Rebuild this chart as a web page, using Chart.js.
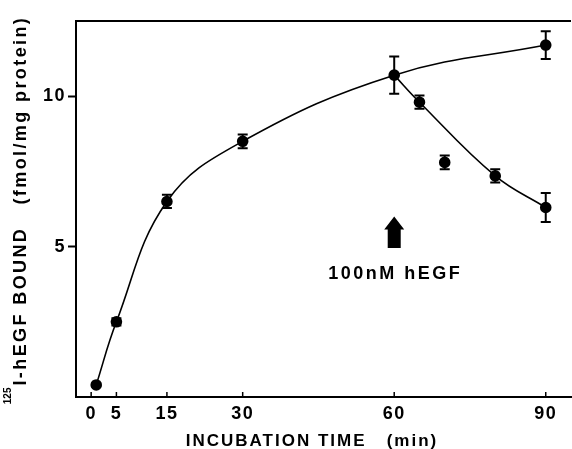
<!DOCTYPE html>
<html>
<head>
<meta charset="utf-8">
<script src="https://cdn.jsdelivr.net/npm/chart.js@4/dist/chart.umd.min.js"></script>
<style>
  html, body { margin: 0; padding: 0; background: #fff; overflow: hidden; }
  canvas { display: block; }
</style>
</head>
<body>
<canvas id="c" width="572" height="449" style="width:572px;height:449px"></canvas>
<script>
// ---- Data ----
const assocTimes  = [1, 5, 15, 30, 60, 90];
const assocValues = [0.4, 2.5, 6.5, 8.5, 10.7, 11.7];
const assocErrors = [0.05, 0.12, 0.22, 0.23, 0.62, 0.46];

const dissocTimes  = [65, 70, 80, 90];
const dissocValues = [9.8, 7.8, 7.35, 6.3];
const dissocErrors = [0.22, 0.23, 0.22, 0.48];

// fitted dissociation curve passes through these measured points
const dissocCurveTimes  = [60, 65, 80, 90];
const dissocCurveValues = [10.7, 9.8, 7.35, 6.3];

const xTickValues = [0, 5, 15, 30, 60, 90];
const yTickValues = [5, 10];

const xTitle = 'INCUBATION TIME   (min)';
const yTitleSup = '125';
const yTitleMain = 'I-hEGF BOUND   (fmol/mg protein)';
const arrowLabel = '100nM hEGF';
const arrowTime = 60;
const arrowRange = [4.95, 6.0];   // base, tip (fmol/mg protein)
const labelValue = 4.1;

const FONT = '"Liberation Sans", Arial, Helvetica, sans-serif';

function pts(xs, ys) { return xs.map((x, i) => ({ x: x, y: ys[i] })); }

const decor = {
  id: 'decor',
  beforeDraw(chart) {
    chart.ctx.letterSpacing = '1.5px';
  },
  afterDatasetsDraw(chart) {
    const ctx = chart.ctx, xs = chart.scales.x, ys = chart.scales.y, a = chart.chartArea;
    ctx.save();
    ctx.strokeStyle = '#000';
    ctx.fillStyle = '#000';
    // error bars
    ctx.lineWidth = 2;
    const drawErr = (t, v, e) => {
      t.forEach((tt, i) => {
        const px = xs.getPixelForValue(tt);
        const top = ys.getPixelForValue(v[i] + e[i]);
        const bot = ys.getPixelForValue(v[i] - e[i]);
        ctx.beginPath();
        ctx.moveTo(px, top); ctx.lineTo(px, bot);
        ctx.moveTo(px - 5, top); ctx.lineTo(px + 5, top);
        ctx.moveTo(px - 5, bot); ctx.lineTo(px + 5, bot);
        ctx.stroke();
      });
    };
    drawErr(assocTimes, assocValues, assocErrors);
    drawErr(dissocTimes, dissocValues, dissocErrors);

    // top frame line
    ctx.lineWidth = 2;
    ctx.beginPath();
    ctx.moveTo(a.left - 1, a.top); ctx.lineTo(a.right, a.top);
    ctx.stroke();

    // inward x ticks
    ctx.lineWidth = 1.5;
    xTickValues.forEach(v => {
      const px = xs.getPixelForValue(v);
      ctx.beginPath();
      ctx.moveTo(px, a.bottom); ctx.lineTo(px, a.bottom - 5);
      ctx.stroke();
    });

    // arrow
    const ax = xs.getPixelForValue(arrowTime);
    const tip = ys.getPixelForValue(arrowRange[1]);
    const base = ys.getPixelForValue(arrowRange[0]);
    const headBase = tip + 13;
    ctx.beginPath();
    ctx.moveTo(ax, tip);
    ctx.lineTo(ax + 10, headBase);
    ctx.lineTo(ax + 6.5, headBase);
    ctx.lineTo(ax + 6.5, base);
    ctx.lineTo(ax - 6.5, base);
    ctx.lineTo(ax - 6.5, headBase);
    ctx.lineTo(ax - 10, headBase);
    ctx.closePath();
    ctx.fill();

    // arrow label
    ctx.font = 'bold 18px ' + FONT;
    ctx.letterSpacing = '2.5px';
    ctx.textAlign = 'center';
    ctx.textBaseline = 'middle';
    ctx.fillText(arrowLabel, ax + 1, ys.getPixelForValue(labelValue));

    // x title
    ctx.font = 'bold 17px ' + FONT;
    ctx.letterSpacing = '2px';
    ctx.textAlign = 'center';
    ctx.textBaseline = 'alphabetic';
    ctx.fillText(xTitle, 312, 446);

    // y title (rotated, with superscript)
    ctx.save();
    ctx.translate(26, 210);
    ctx.rotate(-Math.PI / 2);
    ctx.textAlign = 'left';
    ctx.textBaseline = 'alphabetic';
    ctx.font = 'bold 10px ' + FONT;
    ctx.letterSpacing = '0px';
    const supW = ctx.measureText(yTitleSup).width;
    ctx.font = 'bold 18px ' + FONT;
    ctx.letterSpacing = '2.4px';
    const mainW = ctx.measureText(yTitleMain).width;
    const total = supW + 2 + mainW;
    let x0 = -total / 2;
    ctx.font = 'bold 10px ' + FONT;
    ctx.letterSpacing = '0px';
    ctx.fillText(yTitleSup, x0, -15);
    ctx.font = 'bold 18px ' + FONT;
    ctx.letterSpacing = '2.4px';
    ctx.fillText(yTitleMain, x0 + supW + 2, 0);
    ctx.restore();

    ctx.restore();
  }
};

const chart = new Chart(document.getElementById('c'), {
  type: 'scatter',
  data: {
    datasets: [
      {
        label: 'association curve',
        data: pts(assocTimes, assocValues),
        showLine: true,
        tension: 0.4,
        borderColor: '#000',
        borderWidth: 1.6,
        pointRadius: 0,
        fill: false
      },
      {
        label: 'dissociation curve',
        data: pts(dissocCurveTimes, dissocCurveValues),
        showLine: true,
        tension: 0.4,
        borderColor: '#000',
        borderWidth: 1.6,
        pointRadius: 0,
        fill: false
      },
      {
        label: 'association',
        data: pts(assocTimes, assocValues),
        pointRadius: 7,
        pointBackgroundColor: '#000',
        pointBorderColor: '#fff',
        pointBorderWidth: 2.4
      },
      {
        label: 'dissociation',
        data: pts(dissocTimes, dissocValues),
        pointRadius: 7,
        pointBackgroundColor: '#000',
        pointBorderColor: '#fff',
        pointBorderWidth: 2.4
      }
    ]
  },
  options: {
    responsive: false,
    animation: false,
    devicePixelRatio: 1,
    layout: { autoPadding: false, padding: { top: 21, right: 1, left: 0, bottom: 0 } },
    plugins: { legend: { display: false }, tooltip: { enabled: false } },
    scales: {
      x: {
        type: 'linear',
        min: -3,
        max: 95,
        afterBuildTicks: s => { s.ticks = xTickValues.map(v => ({ value: v })); },
        afterFit: s => { s.height = 52; s.paddingLeft = 0; s.paddingRight = 0; },
        grid: { display: false, drawTicks: false, tickLength: 0 },
        border: { display: true, color: '#000', width: 2 },
        ticks: {
          color: '#000',
          padding: 6,
          maxRotation: 0,
          autoSkip: false,
          font: { family: FONT, size: 18, weight: 'bold' }
        }
      },
      y: {
        type: 'linear',
        min: 0,
        max: 12.5,
        afterBuildTicks: s => { s.ticks = yTickValues.map(v => ({ value: v })); },
        afterFit: s => { s.width = 76; s.paddingTop = 0; s.paddingBottom = 0; },
        grid: { drawOnChartArea: false, drawTicks: true, tickLength: 8, tickWidth: 2, tickColor: '#000', color: '#000' },
        border: { display: true, color: '#000', width: 2 },
        ticks: {
          color: '#000',
          padding: 2,
          autoSkip: false,
          font: { family: FONT, size: 18, weight: 'bold' }
        }
      }
    }
  },
  plugins: [decor]
});
</script>
</body>
</html>
